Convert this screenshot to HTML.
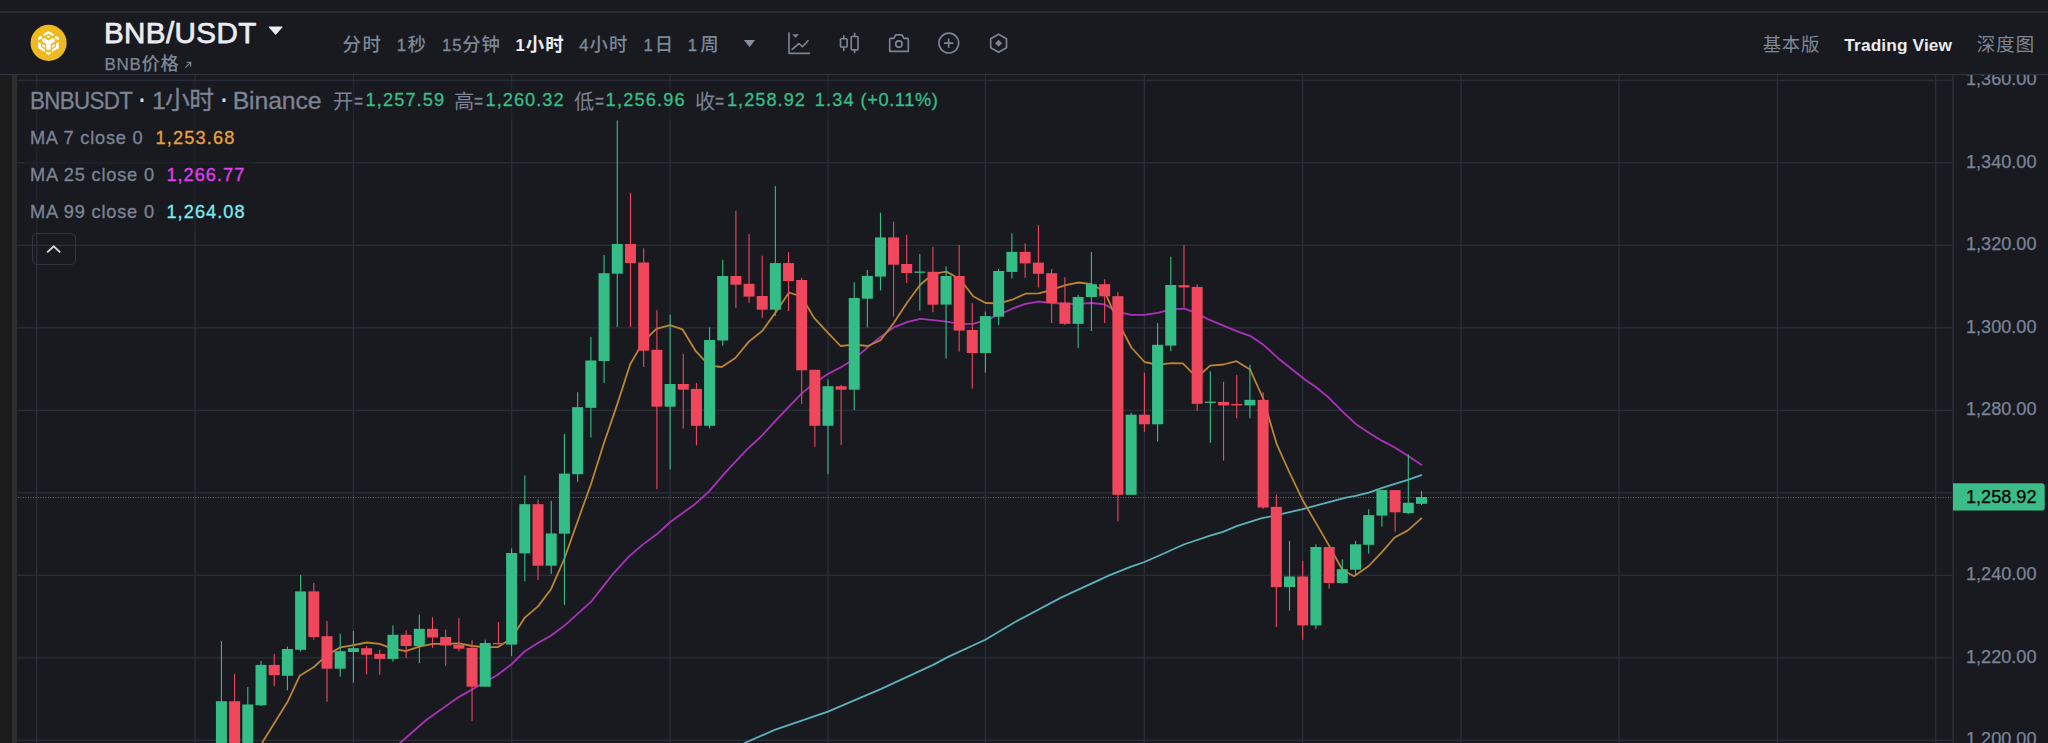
<!DOCTYPE html>
<html lang="zh-CN"><head><meta charset="utf-8"><title>BNB/USDT</title>
<style>
html,body{margin:0;padding:0;background:#181a20;}
body{width:2048px;height:743px;position:relative;overflow:hidden;font-family:"Liberation Sans","Noto Sans CJK SC",sans-serif;}
.t{position:absolute;white-space:nowrap;display:block;}
.tab{font-weight:500}.tab .dg{font-size:16.6px;-webkit-text-stroke:0.35px currentColor;}
.ic{position:absolute;}
#chart{position:absolute;left:0;top:0;}
</style></head><body>

<div class="strip" style="position:absolute;left:0;top:75px;width:12px;height:668px;background:#1b1b1b"></div>
<div class="strip" style="position:absolute;left:12px;top:75px;width:5px;height:668px;background:#2e2e2e"></div>
<svg id="chart" width="2048" height="743" viewBox="0 0 2048 743">
<rect x="0" y="11.2" width="2048" height="1.5" fill="#2b3139"/>
<rect x="0" y="73.85" width="2048" height="1.3" fill="#2d333c"/>
<rect x="36.02" y="75" width="1.36" height="668" fill="#2a2e39"/>
<rect x="194.32" y="75" width="1.36" height="668" fill="#2a2e39"/>
<rect x="352.72" y="75" width="1.36" height="668" fill="#2a2e39"/>
<rect x="510.92" y="75" width="1.36" height="668" fill="#2a2e39"/>
<rect x="669.42" y="75" width="1.36" height="668" fill="#2a2e39"/>
<rect x="827.32" y="75" width="1.36" height="668" fill="#2a2e39"/>
<rect x="984.72" y="75" width="1.36" height="668" fill="#2a2e39"/>
<rect x="1143.72" y="75" width="1.36" height="668" fill="#2a2e39"/>
<rect x="1302.02" y="75" width="1.36" height="668" fill="#2a2e39"/>
<rect x="1460.42" y="75" width="1.36" height="668" fill="#2a2e39"/>
<rect x="1618.22" y="75" width="1.36" height="668" fill="#2a2e39"/>
<rect x="1776.72" y="75" width="1.36" height="668" fill="#2a2e39"/>
<rect x="1934.92" y="75" width="1.36" height="668" fill="#2a2e39"/>
<rect x="17" y="79.64" width="1936" height="1.32" fill="#2a2e39"/>
<rect x="17" y="162.14" width="1936" height="1.32" fill="#2a2e39"/>
<rect x="17" y="244.64" width="1936" height="1.32" fill="#2a2e39"/>
<rect x="17" y="327.14" width="1936" height="1.32" fill="#2a2e39"/>
<rect x="17" y="409.64" width="1936" height="1.32" fill="#2a2e39"/>
<rect x="17" y="492.14" width="1936" height="1.32" fill="#2a2e39"/>
<rect x="17" y="574.64" width="1936" height="1.32" fill="#2a2e39"/>
<rect x="17" y="657.14" width="1936" height="1.32" fill="#2a2e39"/>
<rect x="17" y="739.64" width="1936" height="1.32" fill="#2a2e39"/>
<line x1="17" y1="497.5" x2="1953" y2="497.5" stroke="#2c946c" stroke-width="1" stroke-dasharray="1 4" stroke-dashoffset="4.05"/>
<line x1="17" y1="497.5" x2="1953" y2="497.5" stroke="#235c49" stroke-width="1" stroke-dasharray="1.7 3.3" stroke-dashoffset="2.05"/>
<polyline points="744.6,743.0 774.6,729.9 827.9,711.6 881.2,688.9 933.1,664.9 948.1,656.9 985.3,639.7 1015.1,622.0 1061.5,597.4 1100.0,579.6 1107.3,576.2 1131.1,566.6 1144.5,562.0 1157.6,556.2 1183.8,544.5 1210.1,535.7 1223.0,531.9 1236.6,526.2 1261.0,518.4 1276.7,515.2 1302.7,509.2 1328.9,502.1 1345.9,497.6 1355.4,495.9 1368.8,492.6 1382.2,487.9 1394.8,483.8 1407.9,479.8 1421.3,475.1" fill="none" stroke="#5ab3bb" stroke-width="1.8" stroke-linejoin="round" stroke-linecap="round"/>
<polyline points="400.0,743.0 425.9,720.3 458.7,697.1 497.0,675.2 511.4,664.3 524.5,651.5 537.8,643.0 550.1,636.2 564.3,625.8 591.1,601.7 613.0,573.9 629.3,556.1 643.0,544.4 656.7,534.3 670.3,522.0 694.9,504.2 708.6,491.9 725.0,472.8 746.8,449.6 754.0,443.0 762.2,435.4 775.8,420.3 789.0,406.7 801.5,393.6 814.6,382.9 828.0,373.9 841.4,367.0 854.5,358.9 867.9,347.1 880.5,337.0 893.6,327.4 907.0,322.2 920.3,318.8 933.4,320.1 946.4,321.6 960.1,323.8 973.2,323.8 985.5,320.2 998.9,314.8 1012.3,308.7 1025.4,303.8 1038.8,301.6 1052.2,303.0 1065.6,303.8 1078.7,303.8 1091.5,303.0 1104.6,304.4 1117.8,312.0 1131.4,314.8 1144.5,314.8 1157.7,312.8 1171.0,309.3 1184.4,308.7 1197.0,313.4 1210.1,320.2 1223.5,325.7 1236.6,331.1 1250.0,335.8 1263.4,344.8 1280.0,359.8 1305.4,380.0 1315.5,386.8 1328.9,397.8 1342.3,411.4 1355.4,423.7 1368.8,432.7 1382.2,440.9 1394.8,447.5 1407.9,455.7 1421.3,464.7" fill="none" stroke="#ab31ba" stroke-width="1.8" stroke-linejoin="round" stroke-linecap="round"/>
<polyline points="262.0,743.0 287.9,701.2 299.7,675.8 313.9,667.0 327.5,654.7 340.4,647.4 353.5,645.2 366.9,642.5 379.5,643.8 392.6,648.7 405.7,651.2 419.3,646.6 432.5,643.8 445.6,643.8 459.0,643.3 472.3,646.0 484.6,647.1 498.0,647.1 511.4,638.4 524.5,617.9 538.0,606.4 551.0,589.2 563.8,560.2 577.4,522.0 591.1,483.7 604.0,443.0 617.4,403.9 630.2,364.3 643.3,341.6 656.4,328.8 670.1,325.2 682.4,329.3 695.8,351.2 709.2,365.7 721.7,367.0 735.4,358.0 748.8,341.6 762.2,331.0 775.6,312.4 789.0,292.5 801.5,296.6 814.1,317.9 828.0,332.9 840.6,346.0 854.5,344.6 867.9,346.0 880.5,340.3 893.6,323.3 907.0,302.8 920.2,284.7 933.3,273.8 946.4,271.6 960.1,279.2 973.2,296.2 985.5,303.0 998.9,303.3 1012.3,299.7 1025.4,293.7 1038.8,293.4 1052.2,289.6 1065.6,285.2 1078.7,282.5 1091.5,284.2 1104.6,291.5 1117.8,321.6 1131.4,347.5 1144.5,362.0 1157.7,364.8 1171.0,363.1 1182.8,363.4 1197.0,377.6 1210.1,365.6 1223.5,364.5 1236.6,361.2 1250.0,369.4 1263.4,399.0 1276.7,444.2 1289.0,471.5 1302.7,500.2 1315.5,522.1 1328.9,545.4 1342.3,569.7 1354.0,576.2 1368.7,566.0 1382.1,551.8 1394.6,537.5 1407.9,530.4 1421.3,518.4" fill="none" stroke="#bb8532" stroke-width="1.8" stroke-linejoin="round" stroke-linecap="round"/>
<rect x="220.85" y="641.1" width="1.1" height="118.9" fill="#35bd87"/>
<rect x="215.90" y="701.2" width="11" height="58.8" fill="#35bd87"/>
<rect x="234.05" y="673.9" width="1.1" height="86.1" fill="#f0475d"/>
<rect x="229.10" y="701.2" width="11" height="58.8" fill="#f0475d"/>
<rect x="247.25" y="687.0" width="1.1" height="73.0" fill="#35bd87"/>
<rect x="242.30" y="704.5" width="11" height="55.5" fill="#35bd87"/>
<rect x="260.45" y="661.0" width="1.1" height="45.0" fill="#35bd87"/>
<rect x="255.50" y="664.9" width="11" height="40.4" fill="#35bd87"/>
<rect x="273.65" y="653.9" width="1.1" height="32.3" fill="#f0475d"/>
<rect x="268.70" y="664.9" width="11" height="10.3" fill="#f0475d"/>
<rect x="286.85" y="646.6" width="1.1" height="43.7" fill="#35bd87"/>
<rect x="281.90" y="649.0" width="11" height="26.8" fill="#35bd87"/>
<rect x="300.05" y="575.0" width="1.1" height="76.5" fill="#35bd87"/>
<rect x="295.10" y="591.4" width="11" height="58.4" fill="#35bd87"/>
<rect x="313.25" y="582.9" width="1.1" height="56.8" fill="#f0475d"/>
<rect x="308.30" y="591.4" width="11" height="45.6" fill="#f0475d"/>
<rect x="326.45" y="621.1" width="1.1" height="80.6" fill="#f0475d"/>
<rect x="321.50" y="636.2" width="11" height="32.5" fill="#f0475d"/>
<rect x="339.65" y="633.7" width="1.1" height="42.9" fill="#35bd87"/>
<rect x="334.70" y="651.2" width="11" height="17.5" fill="#35bd87"/>
<rect x="352.85" y="631.0" width="1.1" height="51.6" fill="#35bd87"/>
<rect x="347.90" y="648.2" width="11" height="3.8" fill="#35bd87"/>
<rect x="366.03" y="646.0" width="1.1" height="28.4" fill="#f0475d"/>
<rect x="361.08" y="648.2" width="11" height="6.6" fill="#f0475d"/>
<rect x="379.22" y="649.8" width="1.1" height="24.9" fill="#f0475d"/>
<rect x="374.27" y="653.9" width="11" height="5.0" fill="#f0475d"/>
<rect x="392.40" y="625.5" width="1.1" height="36.1" fill="#35bd87"/>
<rect x="387.45" y="634.8" width="11" height="24.1" fill="#35bd87"/>
<rect x="405.58" y="630.2" width="1.1" height="27.8" fill="#f0475d"/>
<rect x="400.63" y="634.8" width="11" height="11.2" fill="#f0475d"/>
<rect x="418.77" y="614.6" width="1.1" height="48.4" fill="#35bd87"/>
<rect x="413.82" y="628.8" width="11" height="17.2" fill="#35bd87"/>
<rect x="431.95" y="617.3" width="1.1" height="30.6" fill="#f0475d"/>
<rect x="427.00" y="628.8" width="11" height="8.7" fill="#f0475d"/>
<rect x="445.13" y="629.6" width="1.1" height="36.1" fill="#f0475d"/>
<rect x="440.18" y="637.0" width="11" height="8.5" fill="#f0475d"/>
<rect x="458.32" y="617.9" width="1.1" height="33.6" fill="#f0475d"/>
<rect x="453.37" y="644.9" width="11" height="3.8" fill="#f0475d"/>
<rect x="471.50" y="640.3" width="1.1" height="80.6" fill="#f0475d"/>
<rect x="466.55" y="647.9" width="11" height="38.8" fill="#f0475d"/>
<rect x="484.68" y="639.7" width="1.1" height="47.0" fill="#35bd87"/>
<rect x="479.73" y="643.0" width="11" height="43.7" fill="#35bd87"/>
<rect x="497.87" y="622.0" width="1.1" height="22.3" fill="#f0475d"/>
<rect x="492.92" y="643.0" width="11" height="1.3" fill="#f0475d"/>
<rect x="511.05" y="548.3" width="1.1" height="107.8" fill="#35bd87"/>
<rect x="506.10" y="553.0" width="11" height="91.6" fill="#35bd87"/>
<rect x="524.26" y="475.5" width="1.1" height="105.8" fill="#35bd87"/>
<rect x="519.31" y="504.2" width="11" height="49.2" fill="#35bd87"/>
<rect x="537.47" y="499.3" width="1.1" height="80.6" fill="#f0475d"/>
<rect x="532.52" y="504.2" width="11" height="61.5" fill="#f0475d"/>
<rect x="550.68" y="500.9" width="1.1" height="73.0" fill="#35bd87"/>
<rect x="545.73" y="533.4" width="11" height="32.3" fill="#35bd87"/>
<rect x="563.88" y="434.0" width="1.1" height="170.8" fill="#35bd87"/>
<rect x="558.93" y="473.6" width="11" height="60.1" fill="#35bd87"/>
<rect x="577.09" y="392.2" width="1.1" height="89.6" fill="#35bd87"/>
<rect x="572.14" y="407.2" width="11" height="67.0" fill="#35bd87"/>
<rect x="590.30" y="337.0" width="1.1" height="100.5" fill="#35bd87"/>
<rect x="585.35" y="360.5" width="11" height="47.3" fill="#35bd87"/>
<rect x="603.51" y="255.0" width="1.1" height="127.9" fill="#35bd87"/>
<rect x="598.56" y="273.2" width="11" height="87.8" fill="#35bd87"/>
<rect x="616.72" y="120.5" width="1.1" height="206.4" fill="#35bd87"/>
<rect x="611.77" y="244.0" width="11" height="29.7" fill="#35bd87"/>
<rect x="629.93" y="192.9" width="1.1" height="134.0" fill="#f0475d"/>
<rect x="624.98" y="244.0" width="11" height="19.1" fill="#f0475d"/>
<rect x="643.13" y="248.3" width="1.1" height="118.7" fill="#f0475d"/>
<rect x="638.18" y="262.5" width="11" height="88.2" fill="#f0475d"/>
<rect x="656.34" y="310.2" width="1.1" height="179.0" fill="#f0475d"/>
<rect x="651.39" y="349.8" width="11" height="56.9" fill="#f0475d"/>
<rect x="669.55" y="314.6" width="1.1" height="154.9" fill="#35bd87"/>
<rect x="664.60" y="384.0" width="11" height="22.7" fill="#35bd87"/>
<rect x="682.71" y="353.9" width="1.1" height="74.6" fill="#f0475d"/>
<rect x="677.76" y="384.0" width="11" height="5.7" fill="#f0475d"/>
<rect x="695.87" y="382.9" width="1.1" height="62.6" fill="#f0475d"/>
<rect x="690.92" y="388.9" width="11" height="36.9" fill="#f0475d"/>
<rect x="709.03" y="327.4" width="1.1" height="101.1" fill="#35bd87"/>
<rect x="704.08" y="340.0" width="11" height="85.8" fill="#35bd87"/>
<rect x="722.18" y="259.8" width="1.1" height="85.9" fill="#35bd87"/>
<rect x="717.23" y="276.0" width="11" height="64.5" fill="#35bd87"/>
<rect x="735.34" y="210.7" width="1.1" height="97.1" fill="#f0475d"/>
<rect x="730.39" y="276.0" width="11" height="8.7" fill="#f0475d"/>
<rect x="748.50" y="233.9" width="1.1" height="68.9" fill="#f0475d"/>
<rect x="743.55" y="283.8" width="11" height="12.8" fill="#f0475d"/>
<rect x="761.66" y="255.7" width="1.1" height="62.2" fill="#f0475d"/>
<rect x="756.71" y="296.0" width="11" height="13.7" fill="#f0475d"/>
<rect x="774.82" y="186.1" width="1.1" height="129.6" fill="#35bd87"/>
<rect x="769.87" y="263.1" width="11" height="46.6" fill="#35bd87"/>
<rect x="787.98" y="252.2" width="1.1" height="58.8" fill="#f0475d"/>
<rect x="783.02" y="263.1" width="11" height="17.9" fill="#f0475d"/>
<rect x="801.13" y="277.8" width="1.1" height="126.1" fill="#f0475d"/>
<rect x="796.18" y="280.0" width="11" height="90.3" fill="#f0475d"/>
<rect x="814.29" y="369.8" width="1.1" height="77.0" fill="#f0475d"/>
<rect x="809.34" y="369.8" width="11" height="56.0" fill="#f0475d"/>
<rect x="827.45" y="379.3" width="1.1" height="94.9" fill="#35bd87"/>
<rect x="822.50" y="386.2" width="11" height="39.6" fill="#35bd87"/>
<rect x="840.57" y="384.8" width="1.1" height="60.2" fill="#f0475d"/>
<rect x="835.62" y="386.2" width="11" height="3.5" fill="#f0475d"/>
<rect x="853.68" y="282.2" width="1.1" height="127.8" fill="#35bd87"/>
<rect x="848.73" y="298.0" width="11" height="91.7" fill="#35bd87"/>
<rect x="866.80" y="270.0" width="1.1" height="57.4" fill="#35bd87"/>
<rect x="861.85" y="275.9" width="11" height="22.8" fill="#35bd87"/>
<rect x="879.92" y="212.6" width="1.1" height="77.8" fill="#35bd87"/>
<rect x="874.97" y="237.4" width="11" height="39.2" fill="#35bd87"/>
<rect x="893.03" y="221.6" width="1.1" height="94.9" fill="#f0475d"/>
<rect x="888.08" y="237.4" width="11" height="27.3" fill="#f0475d"/>
<rect x="906.15" y="234.8" width="1.1" height="48.1" fill="#f0475d"/>
<rect x="901.20" y="264.0" width="11" height="9.0" fill="#f0475d"/>
<rect x="919.27" y="254.0" width="1.1" height="56.6" fill="#35bd87"/>
<rect x="914.32" y="271.5" width="11" height="1.3" fill="#35bd87"/>
<rect x="932.38" y="246.9" width="1.1" height="65.3" fill="#f0475d"/>
<rect x="927.43" y="271.8" width="11" height="32.9" fill="#f0475d"/>
<rect x="945.50" y="266.4" width="1.1" height="92.1" fill="#35bd87"/>
<rect x="940.55" y="276.0" width="11" height="28.6" fill="#35bd87"/>
<rect x="958.62" y="245.1" width="1.1" height="106.5" fill="#f0475d"/>
<rect x="953.67" y="276.0" width="11" height="54.6" fill="#f0475d"/>
<rect x="971.73" y="303.0" width="1.1" height="85.5" fill="#f0475d"/>
<rect x="966.78" y="330.0" width="11" height="23.0" fill="#f0475d"/>
<rect x="984.85" y="311.5" width="1.1" height="61.2" fill="#35bd87"/>
<rect x="979.90" y="316.1" width="11" height="36.9" fill="#35bd87"/>
<rect x="998.10" y="269.1" width="1.1" height="55.8" fill="#35bd87"/>
<rect x="993.15" y="271.0" width="11" height="45.7" fill="#35bd87"/>
<rect x="1011.35" y="233.3" width="1.1" height="45.1" fill="#35bd87"/>
<rect x="1006.40" y="251.9" width="11" height="20.0" fill="#35bd87"/>
<rect x="1024.60" y="243.2" width="1.1" height="34.7" fill="#f0475d"/>
<rect x="1019.65" y="251.9" width="11" height="11.5" fill="#f0475d"/>
<rect x="1037.85" y="225.1" width="1.1" height="62.3" fill="#f0475d"/>
<rect x="1032.90" y="262.6" width="11" height="11.2" fill="#f0475d"/>
<rect x="1051.10" y="269.1" width="1.1" height="53.9" fill="#f0475d"/>
<rect x="1046.15" y="273.2" width="11" height="29.8" fill="#f0475d"/>
<rect x="1064.35" y="277.3" width="1.1" height="47.6" fill="#f0475d"/>
<rect x="1059.40" y="302.5" width="11" height="21.3" fill="#f0475d"/>
<rect x="1077.60" y="294.8" width="1.1" height="53.3" fill="#35bd87"/>
<rect x="1072.65" y="297.0" width="11" height="26.8" fill="#35bd87"/>
<rect x="1090.85" y="251.9" width="1.1" height="79.2" fill="#35bd87"/>
<rect x="1085.90" y="284.2" width="11" height="12.8" fill="#35bd87"/>
<rect x="1104.10" y="279.2" width="1.1" height="43.8" fill="#f0475d"/>
<rect x="1099.15" y="284.2" width="11" height="12.2" fill="#f0475d"/>
<rect x="1117.35" y="292.1" width="1.1" height="229.4" fill="#f0475d"/>
<rect x="1112.40" y="296.2" width="11" height="198.6" fill="#f0475d"/>
<rect x="1130.60" y="412.8" width="1.1" height="82.0" fill="#35bd87"/>
<rect x="1125.65" y="414.7" width="11" height="80.1" fill="#35bd87"/>
<rect x="1143.85" y="372.7" width="1.1" height="59.2" fill="#f0475d"/>
<rect x="1138.90" y="414.7" width="11" height="9.6" fill="#f0475d"/>
<rect x="1157.04" y="323.0" width="1.1" height="118.5" fill="#35bd87"/>
<rect x="1152.09" y="344.8" width="11" height="79.5" fill="#35bd87"/>
<rect x="1170.23" y="256.8" width="1.1" height="94.3" fill="#35bd87"/>
<rect x="1165.28" y="285.0" width="11" height="60.6" fill="#35bd87"/>
<rect x="1183.43" y="245.1" width="1.1" height="62.3" fill="#f0475d"/>
<rect x="1178.48" y="285.2" width="11" height="2.2" fill="#f0475d"/>
<rect x="1196.62" y="284.2" width="1.1" height="126.7" fill="#f0475d"/>
<rect x="1191.67" y="286.9" width="11" height="116.9" fill="#f0475d"/>
<rect x="1209.81" y="371.3" width="1.1" height="71.5" fill="#35bd87"/>
<rect x="1204.86" y="401.6" width="11" height="1.3" fill="#35bd87"/>
<rect x="1223.00" y="381.7" width="1.1" height="78.9" fill="#f0475d"/>
<rect x="1218.05" y="401.9" width="11" height="3.5" fill="#f0475d"/>
<rect x="1236.19" y="374.9" width="1.1" height="43.4" fill="#f0475d"/>
<rect x="1231.24" y="404.0" width="11" height="1.4" fill="#f0475d"/>
<rect x="1249.38" y="364.8" width="1.1" height="53.5" fill="#35bd87"/>
<rect x="1244.43" y="399.8" width="11" height="5.6" fill="#35bd87"/>
<rect x="1262.58" y="392.2" width="1.1" height="116.7" fill="#f0475d"/>
<rect x="1257.62" y="399.9" width="11" height="107.6" fill="#f0475d"/>
<rect x="1275.77" y="494.5" width="1.1" height="132.5" fill="#f0475d"/>
<rect x="1270.82" y="506.8" width="11" height="80.3" fill="#f0475d"/>
<rect x="1288.96" y="541.0" width="1.1" height="69.6" fill="#35bd87"/>
<rect x="1284.01" y="576.5" width="11" height="10.6" fill="#35bd87"/>
<rect x="1302.15" y="561.0" width="1.1" height="78.8" fill="#f0475d"/>
<rect x="1297.20" y="576.5" width="11" height="48.9" fill="#f0475d"/>
<rect x="1315.35" y="544.3" width="1.1" height="84.6" fill="#35bd87"/>
<rect x="1310.40" y="547.0" width="11" height="78.4" fill="#35bd87"/>
<rect x="1328.55" y="547.0" width="1.1" height="41.7" fill="#f0475d"/>
<rect x="1323.60" y="547.0" width="11" height="36.0" fill="#f0475d"/>
<rect x="1341.75" y="559.3" width="1.1" height="24.5" fill="#35bd87"/>
<rect x="1336.80" y="569.2" width="11" height="13.8" fill="#35bd87"/>
<rect x="1354.95" y="541.0" width="1.1" height="33.4" fill="#35bd87"/>
<rect x="1350.00" y="544.3" width="11" height="25.4" fill="#35bd87"/>
<rect x="1368.15" y="509.2" width="1.1" height="44.4" fill="#35bd87"/>
<rect x="1363.20" y="515.1" width="11" height="29.7" fill="#35bd87"/>
<rect x="1381.35" y="490.1" width="1.1" height="36.4" fill="#35bd87"/>
<rect x="1376.40" y="490.1" width="11" height="25.5" fill="#35bd87"/>
<rect x="1394.55" y="490.1" width="1.1" height="41.6" fill="#f0475d"/>
<rect x="1389.60" y="490.1" width="11" height="22.2" fill="#f0475d"/>
<rect x="1407.75" y="454.3" width="1.1" height="59.9" fill="#35bd87"/>
<rect x="1402.80" y="502.8" width="11" height="10.2" fill="#35bd87"/>
<rect x="1420.95" y="491.0" width="1.1" height="14.0" fill="#35bd87"/>
<rect x="1416.00" y="497.0" width="11" height="6.8" fill="#35bd87"/>
<rect x="24" y="82" width="920" height="38" fill="#181a20" opacity="0.5"/>
<rect x="24" y="120" width="217" height="37" fill="#181a20" opacity="0.5"/>
<rect x="24" y="157" width="230.3" height="37" fill="#181a20" opacity="0.5"/>
<rect x="24" y="194" width="230.3" height="37" fill="#181a20" opacity="0.5"/>
<rect x="1952.3" y="75" width="1.5" height="668" fill="#2a2e39"/>
<clipPath id="cp"><rect x="0" y="75" width="2048" height="668"/></clipPath><g clip-path="url(#cp)">
<text x="1966" y="85.1" font-family="Liberation Sans, sans-serif" font-size="17.6" fill="#7b8498" stroke="#7b8498" stroke-width="0.25" textLength="70.5" lengthAdjust="spacingAndGlyphs">1,360.00</text>
<text x="1966" y="167.6" font-family="Liberation Sans, sans-serif" font-size="17.6" fill="#7b8498" stroke="#7b8498" stroke-width="0.25" textLength="70.5" lengthAdjust="spacingAndGlyphs">1,340.00</text>
<text x="1966" y="250.1" font-family="Liberation Sans, sans-serif" font-size="17.6" fill="#7b8498" stroke="#7b8498" stroke-width="0.25" textLength="70.5" lengthAdjust="spacingAndGlyphs">1,320.00</text>
<text x="1966" y="332.6" font-family="Liberation Sans, sans-serif" font-size="17.6" fill="#7b8498" stroke="#7b8498" stroke-width="0.25" textLength="70.5" lengthAdjust="spacingAndGlyphs">1,300.00</text>
<text x="1966" y="415.1" font-family="Liberation Sans, sans-serif" font-size="17.6" fill="#7b8498" stroke="#7b8498" stroke-width="0.25" textLength="70.5" lengthAdjust="spacingAndGlyphs">1,280.00</text>
<text x="1966" y="580.1" font-family="Liberation Sans, sans-serif" font-size="17.6" fill="#7b8498" stroke="#7b8498" stroke-width="0.25" textLength="70.5" lengthAdjust="spacingAndGlyphs">1,240.00</text>
<text x="1966" y="662.6" font-family="Liberation Sans, sans-serif" font-size="17.6" fill="#7b8498" stroke="#7b8498" stroke-width="0.25" textLength="70.5" lengthAdjust="spacingAndGlyphs">1,220.00</text>
<text x="1966" y="745.1" font-family="Liberation Sans, sans-serif" font-size="17.6" fill="#7b8498" stroke="#7b8498" stroke-width="0.25" textLength="70.5" lengthAdjust="spacingAndGlyphs">1,200.00</text>
</g>
<path d="M1953 483.2 H2041.7 a3 3 0 0 1 3 3 V507.6 a3 3 0 0 1 -3 3 H1953 Z" fill="#3abd88"/>
<text x="1966" y="502.5" font-family="Liberation Sans, sans-serif" font-size="17.6" fill="#000" stroke="#000" stroke-width="0.25" textLength="70.5" lengthAdjust="spacingAndGlyphs">1,258.92</text>
</svg>
<div id="header">
<svg class="ic" style="left:28px;top:22px" width="42" height="42" viewBox="0 0 42 42">
<circle cx="20.6" cy="20.9" r="18.05" fill="#eeba22"/>
<g fill="#fff">
<path d="M20.46 8.9 L26.3 12.5 L24.3 13.9 L20.46 11.5 L16.62 13.9 L14.62 12.5 Z"/>
<path d="M20.46 13.5 L22.2 14.8 L20.46 16.1 L18.72 14.8 Z"/>
<path d="M14.1 17.2 L16.4 16 L20.46 18.4 L24.52 16 L26.82 17.2 V19.5 L22.7 21.9 V27.2 L20.46 28.3 L18.22 27.2 V21.9 L14.1 19.5 Z"/>
<g id="lg-side"><path d="M10.2 15.3 L14 13.7 V16.4 L10.2 18.2 Z"/>
<path d="M10.2 19.9 L12.9 21.4 V25.1 L17 27.4 V30 L10.2 26.3 Z"/>
<path d="M14.2 21.9 L17 23.5 V26 L14.2 24.5 Z" opacity="0.9"/></g>
<g transform="translate(40.92 0) scale(-1 1)"><path d="M10.2 15.3 L14 13.7 V16.4 L10.2 18.2 Z"/>
<path d="M10.2 19.9 L12.9 21.4 V25.1 L17 27.4 V30 L10.2 26.3 Z"/>
<path d="M14.2 21.9 L17 23.5 V26 L14.2 24.5 Z" opacity="0.9"/></g>
<path d="M18.2 29.4 L20.46 30.8 L22.72 29.4 V31.4 L20.46 32.9 L18.2 31.4 Z"/>
</g></svg>
<svg class="ic" style="left:266px;top:24px" width="20" height="14" viewBox="0 0 20 14"><path d="M3.4 2.4 H15.8 a0.6 0.6 0 0 1 0.45 1 L10.1 10.6 a0.6 0.6 0 0 1 -0.9 0 L2.95 3.4 a0.6 0.6 0 0 1 0.45 -1 Z" fill="#eaecef"/></svg>
<svg class="ic" style="left:183px;top:60px" width="10" height="10" viewBox="0 0 10 10" fill="none" stroke="#848e9c" stroke-width="1.1"><path d="M2.3 7.6 L7.6 2.4 M3.6 2.3 H7.7 V6.4"/></svg>
<svg class="ic" style="left:742px;top:38px" width="16" height="12" viewBox="0 0 16 12"><path d="M2 1.9 H13.1 L7.55 9.2 Z" fill="#848e9c"/></svg>

<svg class="ic" style="left:770px;top:20px" width="260" height="50" viewBox="770 20 260 50" fill="none" stroke="#7b8492" stroke-width="1.65" stroke-linejoin="round" stroke-linecap="butt">
<path d="M789 32.3 V53.3 H810"/>
<path d="M791.6 49.8 L799 43.5 L802.4 46.7 L808.5 40.3"/>
<path d="M792.2 34.2 H799 L795.6 37.8 Z" fill="#7b8492" stroke="none"/>
<rect x="840.5" y="38.7" width="6.6" height="8.3" rx="0.8"/><path d="M843.8 35.2 V38.7 M843.8 47 V51.1"/>
<rect x="851.2" y="36.5" width="6.8" height="13.3" rx="0.8"/><path d="M854.6 32.7 V36.5 M854.6 49.8 V53.3"/>
<path d="M889.7 39.2 a0.8 0.8 0 0 1 0.8 -0.8 H893.8 L895.7 34.9 H902 L903.9 38.4 H907.5 a0.8 0.8 0 0 1 0.8 0.8 V51.4 H889.7 Z"/>
<circle cx="898.9" cy="44.1" r="3.2"/>
<circle cx="948.8" cy="43.1" r="9.9"/><path d="M944 43.1 H953.4 M948.7 38.4 V47.8"/>
<path d="M998.6 34.2 L1006.5 38.7 V47.7 L998.6 52.2 L990.7 47.7 V38.7 Z"/>
<path d="M998.6 39.7 L1002.1 43.2 L998.6 46.7 L995.1 43.2 Z" fill="#7b8492" stroke="none"/>
</svg>

</div>
<div id="legend">
<span id="t0" class="t" style="left:103.94px;top:13.84px;font-size:29.6px;line-height:37px;color:#eaecef;font-weight:400;letter-spacing:0.388px;-webkit-text-stroke:0.75px #eaecef;">BNB/USDT</span>
<span id="t1" class="t" style="left:104.47px;top:51.56px;font-size:18.3px;line-height:23px;color:#7d8796;font-weight:500;letter-spacing:0.696px;"><span style="font-size:17px;-webkit-text-stroke:0.25px currentColor">BNB</span>价格</span>
<span id="t2" class="t tab" style="left:342.43px;top:33.12px;font-size:18.4px;line-height:23px;color:#7d8796;font-weight:500;letter-spacing:1.640px;">分时</span>
<span id="t3" class="t tab" style="left:396.77px;top:33.12px;font-size:18.4px;line-height:23px;color:#7d8796;font-weight:500;letter-spacing:1.393px;"><span class="dg">1</span>秒</span>
<span id="t4" class="t tab" style="left:442.12px;top:33.12px;font-size:18.4px;line-height:23px;color:#7d8796;font-weight:500;letter-spacing:0.837px;"><span class="dg">15</span>分钟</span>
<span id="t5" class="t tab" style="left:515.47px;top:33.12px;font-size:18.4px;line-height:23px;color:#eaecef;font-weight:700;letter-spacing:1.097px;"><span class="dg" style="-webkit-text-stroke:0">1</span>小时</span>
<span id="t6" class="t tab" style="left:579.27px;top:33.12px;font-size:18.4px;line-height:23px;color:#7d8796;font-weight:500;letter-spacing:0.993px;"><span class="dg">4</span>小时</span>
<span id="t7" class="t tab" style="left:643.54px;top:33.12px;font-size:18.4px;line-height:23px;color:#7d8796;font-weight:500;letter-spacing:1.983px;"><span class="dg">1</span>日</span>
<span id="t8" class="t tab" style="left:687.77px;top:33.12px;font-size:18.4px;line-height:23px;color:#7d8796;font-weight:500;letter-spacing:3.130px;"><span class="dg">1</span>周</span>
<span id="t9" class="t tab" style="left:1762.65px;top:33.12px;font-size:18.4px;line-height:23px;color:#7d8796;font-weight:400;letter-spacing:0.840px;">基本版</span>
<span id="t10" class="t" style="left:1844.29px;top:33.81px;font-size:17.3px;line-height:22px;color:#eaecef;font-weight:700;letter-spacing:0.136px;">Trading View</span>
<span id="t11" class="t tab" style="left:1976.63px;top:33.12px;font-size:18.4px;line-height:23px;color:#7d8796;font-weight:400;letter-spacing:1.117px;">深度图</span>
<span id="t12" class="t" style="left:30.25px;top:85.01px;font-size:24.8px;line-height:31px;color:#7c8495;font-weight:400;letter-spacing:-0.694px;-webkit-text-stroke:0.3px currentColor;transform:scaleX(0.9);transform-origin:0 0;">BNBUSDT</span>
<span id="t13" class="t" style="left:137.43px;top:83.10px;font-size:28px;line-height:35px;color:#d6d9df;font-weight:400;letter-spacing:-1.420px;font-family:'DejaVu Sans',sans-serif;">·</span>
<span id="t14" class="t" style="left:151.96px;top:85.01px;font-size:24.8px;line-height:31px;color:#7c8495;font-weight:400;letter-spacing:-0.683px;-webkit-text-stroke:0.3px currentColor;">1小时</span>
<span id="t15" class="t" style="left:219.38px;top:83.10px;font-size:28px;line-height:35px;color:#d6d9df;font-weight:400;letter-spacing:-1.310px;font-family:'DejaVu Sans',sans-serif;">·</span>
<span id="t16" class="t" style="left:232.64px;top:85.01px;font-size:24.8px;line-height:31px;color:#7c8495;font-weight:400;letter-spacing:-0.108px;-webkit-text-stroke:0.3px currentColor;">Binance</span>
<span id="t17" class="t cj2" style="left:333.00px;top:89.70px;font-size:20.2px;line-height:25px;color:#7c8495;font-weight:400;letter-spacing:0.000px;">开</span>
<span id="t18" class="t" style="left:354.10px;top:89.66px;font-size:18px;line-height:22px;color:#7c8495;font-weight:400;letter-spacing:0.000px;-webkit-text-stroke:0.3px currentColor;transform:scaleX(0.86);transform-origin:0 0;">=</span>
<span id="t19" class="t" style="left:365.59px;top:88.79px;font-size:18.2px;line-height:23px;color:#3abd88;font-weight:400;letter-spacing:1.104px;-webkit-text-stroke:0.3px currentColor;">1,257.59</span>
<span id="t20" class="t cj2" style="left:454.10px;top:89.70px;font-size:20.2px;line-height:25px;color:#7c8495;font-weight:400;letter-spacing:0.000px;">高</span>
<span id="t21" class="t" style="left:474.10px;top:89.66px;font-size:18px;line-height:22px;color:#7c8495;font-weight:400;letter-spacing:0.000px;-webkit-text-stroke:0.3px currentColor;transform:scaleX(0.86);transform-origin:0 0;">=</span>
<span id="t22" class="t" style="left:485.59px;top:88.79px;font-size:18.2px;line-height:23px;color:#3abd88;font-weight:400;letter-spacing:1.021px;-webkit-text-stroke:0.3px currentColor;">1,260.32</span>
<span id="t23" class="t cj2" style="left:574.10px;top:89.70px;font-size:20.2px;line-height:25px;color:#7c8495;font-weight:400;letter-spacing:0.000px;">低</span>
<span id="t24" class="t" style="left:594.70px;top:89.66px;font-size:18px;line-height:22px;color:#7c8495;font-weight:400;letter-spacing:0.000px;-webkit-text-stroke:0.3px currentColor;transform:scaleX(0.86);transform-origin:0 0;">=</span>
<span id="t25" class="t" style="left:605.59px;top:88.79px;font-size:18.2px;line-height:23px;color:#3abd88;font-weight:400;letter-spacing:1.190px;-webkit-text-stroke:0.3px currentColor;">1,256.96</span>
<span id="t26" class="t cj2" style="left:695.00px;top:89.70px;font-size:20.2px;line-height:25px;color:#7c8495;font-weight:400;letter-spacing:0.000px;">收</span>
<span id="t27" class="t" style="left:715.20px;top:89.66px;font-size:18px;line-height:22px;color:#7c8495;font-weight:400;letter-spacing:0.000px;-webkit-text-stroke:0.3px currentColor;transform:scaleX(0.86);transform-origin:0 0;">=</span>
<span id="t28" class="t" style="left:726.90px;top:88.79px;font-size:18.2px;line-height:23px;color:#3abd88;font-weight:400;letter-spacing:1.038px;-webkit-text-stroke:0.3px currentColor;">1,258.92</span>
<span id="t29" class="t" style="left:814.75px;top:88.79px;font-size:18.2px;line-height:23px;color:#3abd88;font-weight:400;letter-spacing:1.153px;-webkit-text-stroke:0.3px currentColor;">1.34</span>
<span id="t30" class="t" style="left:860.55px;top:88.79px;font-size:18.2px;line-height:23px;color:#3abd88;font-weight:400;letter-spacing:0.606px;-webkit-text-stroke:0.3px currentColor;">(+0.11%)</span>
<span id="t31" class="t" style="left:29.93px;top:126.89px;font-size:18.2px;line-height:23px;color:#7c8495;font-weight:400;letter-spacing:0.786px;-webkit-text-stroke:0.3px currentColor;">MA 7 close 0</span>
<span id="t32" class="t" style="left:155.47px;top:126.89px;font-size:18.2px;line-height:23px;color:#e8a23c;font-weight:400;letter-spacing:1.142px;-webkit-text-stroke:0.3px currentColor;">1,253.68</span>
<span id="t33" class="t" style="left:29.93px;top:163.99px;font-size:18.2px;line-height:23px;color:#7c8495;font-weight:400;letter-spacing:0.823px;-webkit-text-stroke:0.3px currentColor;">MA 25 close 0</span>
<span id="t34" class="t" style="left:166.41px;top:163.99px;font-size:18.2px;line-height:23px;color:#e23df2;font-weight:400;letter-spacing:1.013px;-webkit-text-stroke:0.3px currentColor;">1,266.77</span>
<span id="t35" class="t" style="left:29.93px;top:201.29px;font-size:18.2px;line-height:23px;color:#7c8495;font-weight:400;letter-spacing:0.823px;-webkit-text-stroke:0.3px currentColor;">MA 99 close 0</span>
<span id="t36" class="t" style="left:166.43px;top:201.29px;font-size:18.2px;line-height:23px;color:#7deaf2;font-weight:400;letter-spacing:1.057px;-webkit-text-stroke:0.3px currentColor;">1,264.08</span>
<div style="position:absolute;left:31.5px;top:233.3px;width:42.5px;height:29.8px;border:1px solid #31353f;border-radius:5px;background:transparent"></div>
<svg class="ic" style="left:44px;top:242px" width="20" height="14" viewBox="44 242 20 14" fill="none" stroke="#d5d7dc" stroke-width="1.9"><path d="M47.2 252.4 L53.7 246.2 L60.2 252.4"/></svg>
</div>
</body></html>
